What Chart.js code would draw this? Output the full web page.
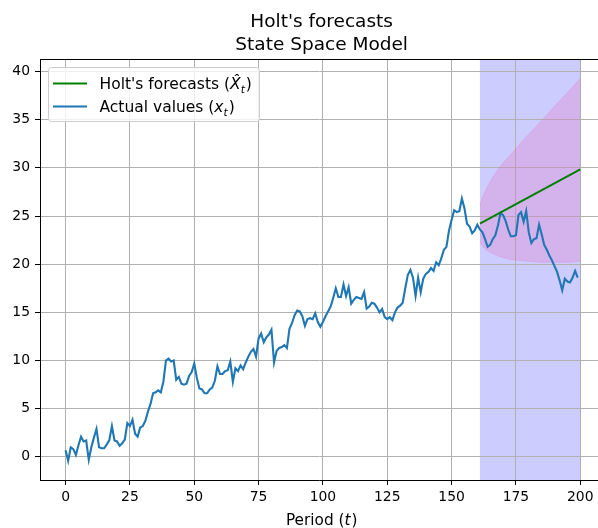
<!DOCTYPE html>
<html>
<head>
<meta charset="utf-8">
<title>Holt's forecasts</title>
<script src="https://cdn.jsdelivr.net/npm/chart.js@4.4.1/dist/chart.umd.min.js"></script>
<style>
  html, body { margin: 0; padding: 0; background: #fff; overflow: hidden; }
  #wrap { position: relative; width: 598px; height: 528px; }
</style>
</head>
<body>
<div id="wrap"><canvas id="holtChart"></canvas></div>
<script>
// observed series, one value per period starting at t = 0
const actualValues = [
  0.7, -0.4, 1.0, 0.8, 0.2, 1.2, 2.1, 1.6, 1.7, -0.3,
  1.0, 2.0, 2.9, 1.0, 0.9, 0.9, 1.3, 1.75, 3.2, 1.7,
  1.6, 1.15, 1.4, 1.8, 3.5, 3.2, 3.85, 2.4, 2.1, 3.05,
  3.2, 3.75, 4.7, 5.5, 6.6, 6.7, 6.9, 6.7, 7.8, 10.0,
  10.2, 9.9, 10.0, 8.0, 8.3, 7.6, 7.5, 7.6, 8.4, 8.8,
  9.7, 8.2, 7.1, 7.0, 6.6, 6.6, 7.0, 7.2, 7.9, 9.4,
  8.6, 8.6, 8.9, 9.0, 9.9, 7.8, 9.2, 8.9, 9.5, 9.1,
  9.8, 10.4, 10.9, 11.2, 10.4, 12.3, 12.8, 11.9, 12.4, 12.7,
  13.2, 9.8, 11.0, 11.3, 11.4, 11.6, 11.3, 13.3, 13.9, 14.7,
  15.2, 15.1, 14.6, 13.6, 14.3, 14.4, 14.3, 14.9, 14.0, 13.5,
  14.0, 14.6, 15.1, 15.6, 16.5, 17.5, 16.6, 16.6, 17.9, 16.7,
  17.6, 15.9, 16.3, 16.6, 16.5, 16.4, 17.1, 15.4, 15.6, 16.0,
  15.9, 15.5, 15.0, 15.35, 14.5, 14.3, 14.5, 14.2, 15.0, 15.5,
  15.7, 16.0, 17.5, 18.9, 19.4, 18.6, 16.7, 18.6, 17.1, 18.5,
  19.0, 19.2, 19.6, 19.3, 20.2, 19.9, 20.6, 21.5, 21.8, 23.5,
  24.6, 25.6, 25.4, 25.5, 26.8, 25.8, 24.2, 23.9, 23.2, 23.5,
  24.1, 23.6, 23.3, 22.6, 21.8, 22.0, 22.6, 23.0, 24.0, 25.3,
  25.1, 24.5, 23.6, 22.9, 22.9, 23.0, 25.1, 25.4, 24.4, 25.5,
  23.3, 22.2, 22.6, 22.7, 24.1, 23.1, 22.0, 21.5, 20.9, 20.4,
  19.8, 19.2, 18.3, 17.3, 18.5, 18.2, 18.1, 18.6, 19.3, 18.6
];
const actualPeriods = actualValues.map((v, i) => i);

// Holt's forecast (straight line) and prediction band
const forecastPeriods = [161, 200];
const forecastValues = [24.2, 29.85];
const bandPeriods = [161, 162, 163, 164, 166, 168, 170, 173, 176, 180, 185, 190, 195, 200];
const bandUpper = [26.1, 26.9, 27.5, 28.1, 29.0, 29.8, 30.5, 31.4, 32.3, 33.5, 34.9, 36.4, 37.8, 39.3];
const bandLower = [22.3, 21.9, 21.6, 21.4, 21.1, 20.85, 20.7, 20.5, 20.4, 20.3, 20.2, 20.2, 20.2, 20.3];
const spanStart = 161;
const spanEnd = 200;

const xTickValues = [0, 25, 50, 75, 100, 125, 150, 175, 200];
const yTickValues = [0, 5, 10, 15, 20, 25, 30, 35, 40];

const FONT = '"DejaVu Sans"';
const xMin = -9.95, xMax = 206.9, axesRight = 208.95;
const bandColor = 'rgba(227,119,194,0.3)';

function toPoints(xs, ys) {
  return xs.map((x, i) => ({ x: x, y: ys[i] }));
}

// draws a line of text made of plain / italic / subscript parts
function richText(ctx, parts, x, y, align) {
  const fontOf = p => (p.italic ? 'italic ' : '') + p.size + 'px ' + FONT;
  let w = 0;
  parts.forEach(p => {
    ctx.font = fontOf(p);
    p.w = ctx.measureText(p.text).width + (p.gap || 0);
    w += p.w;
  });
  let cx = align === 'center' ? x - w / 2 : x;
  ctx.textAlign = 'left';
  ctx.textBaseline = 'alphabetic';
  parts.forEach(p => {
    ctx.font = fontOf(p);
    ctx.fillText(p.text, cx, y + (p.dy || 0));
    cx += p.w;
  });
}

const decorPlugin = {
  id: 'decor',
  beforeDraw(chart) {
    const { ctx, chartArea: a, scales: { x } } = chart;
    const x0 = x.getPixelForValue(spanStart);
    const x1 = x.getPixelForValue(spanEnd);
    ctx.save();
    ctx.fillStyle = 'rgba(0,0,255,0.2)';
    ctx.fillRect(x0, a.top, x1 - x0, a.bottom - a.top);
    ctx.restore();
  },
  afterDraw(chart) {
    const { ctx, chartArea: a, scales: { x } } = chart;
    const midX = x.getPixelForValue((xMin + axesRight) / 2);
    ctx.save();

    // top spine
    ctx.strokeStyle = '#000';
    ctx.lineWidth = 1;
    ctx.beginPath();
    ctx.moveTo(a.left, a.top + 0.5);
    ctx.lineTo(a.right, a.top + 0.5);
    ctx.stroke();

    // title
    ctx.fillStyle = '#000';
    ctx.textAlign = 'center';
    ctx.textBaseline = 'alphabetic';
    ctx.font = '18.5px ' + FONT;
    ctx.fillText("Holt's forecasts", midX, 27);
    ctx.fillText('State Space Model', midX, 50);

    // x axis title
    richText(ctx, [
      { text: 'Period (', size: 15.3 },
      { text: 't', size: 15.3, italic: true, gap: 1 },
      { text: ')', size: 15.3 }
    ], midX, 525, 'center');

    // legend
    ctx.beginPath();
    ctx.roundRect(48.5, 67.5, 211, 54, 3);
    ctx.fillStyle = 'rgba(255,255,255,0.8)';
    ctx.fill();
    ctx.strokeStyle = '#cccccc';
    ctx.stroke();

    ctx.lineWidth = 2;
    ctx.strokeStyle = '#008000';
    ctx.beginPath();
    ctx.moveTo(53, 83.5);
    ctx.lineTo(87, 83.5);
    ctx.stroke();
    ctx.strokeStyle = '#1f77b4';
    ctx.beginPath();
    ctx.moveTo(53, 106.5);
    ctx.lineTo(87, 106.5);
    ctx.stroke();

    ctx.fillStyle = '#000';
    richText(ctx, [
      { text: "Holt's forecasts (", size: 15.5 },
      { text: 'X\u0302', size: 15.5, italic: true },
      { text: 't', size: 10.8, italic: true, dy: 3.5, gap: 1 },
      { text: ')', size: 15.5 }
    ], 99.5, 89, 'left');
    richText(ctx, [
      { text: 'Actual values (', size: 15.5 },
      { text: 'x', size: 15.5, italic: true },
      { text: 't', size: 10.8, italic: true, dy: 3.5, gap: 1 },
      { text: ')', size: 15.5 }
    ], 99.5, 112.3, 'left');

    ctx.restore();
  }
};

const gridStyle = {
  color: '#b0b0b0',
  lineWidth: 1,
  tickColor: '#000',
  tickLength: 5,
  tickWidth: 1
};

new Chart(document.getElementById('holtChart'), {
  type: 'line',
  data: {
    datasets: [
      {
        label: "Holt's forecasts",
        data: toPoints(forecastPeriods, forecastValues),
        borderColor: '#008000',
        borderWidth: 2,
        pointRadius: 0,
        fill: false
      },
      {
        label: 'Actual values',
        data: toPoints(actualPeriods, actualValues),
        borderColor: '#1f77b4',
        borderWidth: 2.1,
        pointRadius: 0,
        fill: false
      },
      {
        label: 'upper',
        data: toPoints(bandPeriods, bandUpper),
        borderColor: bandColor,
        backgroundColor: bandColor,
        borderWidth: 1,
        pointRadius: 0,
        cubicInterpolationMode: 'monotone',
        fill: '+1'
      },
      {
        label: 'lower',
        data: toPoints(bandPeriods, bandLower),
        borderColor: bandColor,
        borderWidth: 1,
        pointRadius: 0,
        cubicInterpolationMode: 'monotone',
        fill: false
      }
    ]
  },
  options: {
    responsive: true,
    maintainAspectRatio: false,
    animation: false,
    layout: { padding: { top: 59, left: 0, right: 0, bottom: 0 } },
    plugins: {
      legend: { display: false },
      title: { display: false },
      tooltip: { enabled: false }
    },
    scales: {
      x: {
        type: 'linear',
        min: xMin,
        max: xMax,
        afterBuildTicks: s => { s.ticks = xTickValues.map(v => ({ value: v })); },
        afterFit: s => { s.height = 48; },
        grid: gridStyle,
        border: { display: true, color: '#000', width: 1 },
        ticks: {
          autoSkip: false,
          maxRotation: 0,
          padding: 4,
          color: '#000',
          font: { family: FONT, size: 13.9 }
        }
      },
      y: {
        type: 'linear',
        min: -2.4,
        max: 41.3,
        afterBuildTicks: s => { s.ticks = yTickValues.map(v => ({ value: v })); },
        afterFit: s => { s.width = 40; },
        grid: gridStyle,
        border: { display: true, color: '#000', width: 1 },
        ticks: {
          padding: 5,
          color: '#000',
          font: { family: FONT, size: 13.9 }
        }
      }
    }
  },
  plugins: [decorPlugin]
});
</script>
</body>
</html>
